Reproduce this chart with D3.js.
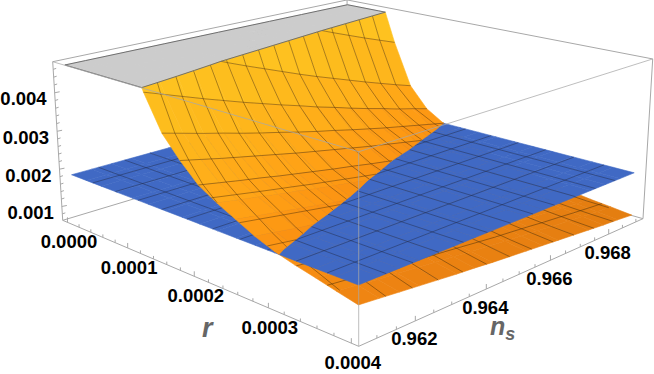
<!DOCTYPE html>
<html>
<head>
<meta charset="utf-8">
<script src="https://cdn.jsdelivr.net/npm/d3@7"></script>
<style>
  body { margin: 0; background: #fff; }
  text { font-family: "Liberation Sans", Arial, sans-serif; font-weight: bold; }
</style>
</head>
<body>
<div id="chart-area"></div>
<script>
// grid of the two surfaces, z values are in units of 0.001
const rGrid = [0, 0.000025, 0.00005, 0.000075, 0.0001, 0.000125, 0.00015, 0.000175, 0.0002,
  0.000225, 0.00025, 0.000275, 0.0003, 0.000325, 0.00035, 0.000375, 0.0004]
const nsGrid = [0.96072, 0.961244, 0.961768, 0.962292, 0.962816, 0.96334, 0.963864, 0.964388, 0.964912,
  0.965436, 0.96596, 0.966484, 0.967008, 0.967532, 0.968056, 0.96858, 0.969104]

// one row per r value, one column per ns value
const orangeZ = [
  [15.2, 14.74, 14.28, 13.84, 13.41, 12.98, 12.57, 12.17, 11.77, 11.39, 11.01, 10.65, 10.29, 9.95, 9.61, 9.29, 8.97],
  [11.9, 11.53, 11.16, 10.81, 10.45, 10.11, 9.78, 9.46, 9.14, 8.83, 8.53, 8.24, 7.94, 7.67, 7.4, 7.14, 6.88],
  [8.97, 8.7, 8.43, 8.17, 7.91, 7.66, 7.42, 7.18, 6.95, 6.72, 6.5, 6.29, 6.08, 5.88, 5.68, 5.49, 5.3],
  [7.17, 6.93, 6.69, 6.45, 6.22, 6, 5.78, 5.57, 5.36, 5.16, 4.96, 4.77, 4.58, 4.4, 4.22, 4.05, 3.88],
  [5.71, 5.49, 5.27, 5.06, 4.85, 4.64, 4.44, 4.25, 4.06, 3.87, 3.69, 3.52, 3.35, 3.18, 3.02, 2.86, 2.71],
  [4.61, 4.43, 4.25, 4.07, 3.9, 3.73, 3.57, 3.41, 3.26, 3.1, 2.96, 2.81, 2.67, 2.54, 2.4, 2.28, 2.15],
  [3.75, 3.61, 3.47, 3.34, 3.2, 3.07, 2.95, 2.82, 2.7, 2.59, 2.47, 2.36, 2.25, 2.15, 2.05, 1.95, 1.85],
  [3.23, 3.11, 2.99, 2.88, 2.77, 2.66, 2.55, 2.45, 2.35, 2.25, 2.15, 2.06, 1.97, 1.88, 1.79, 1.71, 1.63],
  [2.79, 2.69, 2.59, 2.5, 2.4, 2.31, 2.22, 2.13, 2.05, 1.96, 1.88, 1.8, 1.73, 1.65, 1.58, 1.51, 1.44],
  [2.52, 2.43, 2.34, 2.25, 2.17, 2.08, 2, 1.92, 1.84, 1.77, 1.69, 1.62, 1.55, 1.48, 1.42, 1.35, 1.29],
  [2.29, 2.21, 2.13, 2.05, 1.97, 1.89, 1.82, 1.75, 1.68, 1.61, 1.54, 1.48, 1.42, 1.35, 1.29, 1.24, 1.18],
  [2.06, 1.99, 1.91, 1.84, 1.77, 1.71, 1.64, 1.58, 1.52, 1.45, 1.39, 1.34, 1.28, 1.23, 1.17, 1.12, 1.07],
  [1.88, 1.81, 1.75, 1.68, 1.62, 1.56, 1.5, 1.44, 1.38, 1.33, 1.28, 1.22, 1.17, 1.12, 1.07, 1.03, 0.98],
  [1.75, 1.69, 1.63, 1.56, 1.51, 1.45, 1.39, 1.34, 1.28, 1.23, 1.18, 1.13, 1.08, 1.03, 0.99, 0.94, 0.9],
  [1.64, 1.58, 1.52, 1.46, 1.41, 1.35, 1.3, 1.25, 1.19, 1.14, 1.1, 1.05, 1, 0.96, 0.91, 0.87, 0.83],
  [1.52, 1.47, 1.41, 1.36, 1.31, 1.26, 1.21, 1.16, 1.11, 1.06, 1.02, 0.98, 0.93, 0.89, 0.85, 0.81, 0.78],
  [1.41, 1.36, 1.31, 1.26, 1.21, 1.16, 1.12, 1.07, 1.03, 0.99, 0.95, 0.91, 0.87, 0.83, 0.79, 0.76, 0.72]
]
const blueLevel = 1.85
const clipLevel = 4.71

// mesh on the blue plane
const blueMeshR = [0.000036, 0.000073, 0.000109, 0.000145, 0.000182, 0.000218, 0.000255, 0.000291, 0.000327, 0.000364]
const blueMeshNs = [0.96142, 0.96212, 0.96282, 0.96351, 0.96421, 0.96491, 0.96561, 0.96631, 0.96701, 0.9677, 0.9684]
// mesh on the orange surface: lines of equal r, and the steps between lines of equal ns
const orangeMeshR = [0.000025, 0.00005, 0.000075, 0.0001, 0.000125, 0.00015, 0.000175, 0.0002, 0.000218, 0.000255, 0.000291, 0.000327, 0.000364]
const orangeMeshLines = [-7, -6, -5, -4, -3, -2, -1, 0, 1, 2, 3, 4, 5, 6, 7]

const rTickLabels = ["0.0000", "0.0001", "0.0002", "0.0003", "0.0004"]
const nsTickLabels = ["0.962", "0.964", "0.966", "0.968"]
const zTickLabels = ["0.001", "0.002", "0.003", "0.004"]

// box coordinates: u runs from the front corner to the left one, v to the right one, w upwards
const rScale = d3.scaleLinear().domain([0.0004, 0]).range([0.02, 0.98])
const nsScale = d3.scaleLinear().domain([0.960544, 0.96927]).range([0, 1])
const zScale = d3.scaleLinear().domain([0.625, 4.795]).range([0, 1])

const orangeColor = d3.scaleLinear()
  .domain([0.7, 1.4, 1.85, 2.3, 3, 4, 4.7])
  .range(["#e37d10", "#ee8412", "#fb9212", "#ffa015", "#ffb01a", "#fdbc1d", "#fec220"])

// index scales to look up the table between its rows
const rIndex = d3.scaleLinear().domain([0, 0.0004]).range([0, 16])
const nsIndex = d3.scaleLinear().domain([nsGrid[0], nsGrid[16]]).range([0, 16])
// the equal-ns lines spread out towards large r
const meshStep = d3.scaleLinear().domain([0.0001, 0.0004]).range([0.000524, 0.0007]).clamp(true)

// perspective of the box, taken from its corners in the picture
const origin = [358.7, 346.3]
const axisU = [-280.3, -70.9]
const axisV = [439.9, -74.7]
const axisW = [-14.7, -200.8]
const perspU = 0.25, perspV = 0.242, perspW = -0.041

function projectBox(u, v, w) {
  let d = 1 + perspU * u + perspV * v + perspW * w
  return [
    (origin[0] + u * axisU[0] + v * axisV[0] + w * axisW[0]) / d,
    (origin[1] + u * axisU[1] + v * axisV[1] + w * axisW[1]) / d
  ]
}
const project = p => projectBox(rScale(p.r), nsScale(p.ns), zScale(p.z))

const mix = (a, b, t) => ({
  r: a.r + (b.r - a.r) * t,
  ns: a.ns + (b.ns - a.ns) * t,
  z: a.z + (b.z - a.z) * t
})

// cut a polygon with a horizontal plane
function cutPolygon(poly, level, keepAbove) {
  let out = []
  let inside = p => keepAbove ? p.z >= level : p.z <= level
  poly.forEach((p, i) => {
    let q = poly[(i + 1) % poly.length]
    if (inside(p)) out.push(p)
    if (inside(p) != inside(q)) out.push(mix(p, q, (level - p.z) / (q.z - p.z)))
  })
  return out
}

// the part of a segment between two heights
function cutSegment(a, b, lo, hi) {
  let t0 = 0, t1 = 1
  let dz = b.z - a.z
  if (dz == 0) return (a.z >= lo && a.z <= hi) ? [a, b] : null
  let tLo = (lo - a.z) / dz, tHi = (hi - a.z) / dz
  t0 = Math.max(t0, Math.min(tLo, tHi))
  t1 = Math.min(t1, Math.max(tLo, tHi))
  return t0 < t1 ? [mix(a, b, t0), mix(a, b, t1)] : null
}

const node = (i, j) => ({ r: rGrid[i], ns: nsGrid[j], z: orangeZ[i][j] })
const flatNode = (i, j) => ({ r: rGrid[i], ns: nsGrid[j], z: blueLevel })

// height of the orange surface anywhere inside the table
function orangeAt(r, ns) {
  let a = rIndex(r), b = nsIndex(ns)
  let i = Math.min(15, Math.floor(a)), j = Math.min(15, Math.floor(b))
  let s = a - i, t = b - j
  let z = orangeZ[i][j] * (1 - s) * (1 - t) + orangeZ[i + 1][j] * s * (1 - t)
    + orangeZ[i][j + 1] * (1 - s) * t + orangeZ[i + 1][j + 1] * s * t
  return { r: r, ns: ns, z: z }
}

let svg = d3.select("#chart-area").append("svg")
  .attr("width", 654)
  .attr("height", 374)
  .style("display", "block")

const line = d3.line()
const polyPath = poly => line(poly.map(project)) + "Z"
const boxLine = (g, a, b, opacity) => g.append("path")
  .attr("d", line([projectBox(...a), projectBox(...b)]))
  .attr("fill", "none")
  .attr("stroke", "#a8a8a8")
  .attr("stroke-width", 1)
  .attr("stroke-opacity", opacity)

// cells from back to front
let cells = []
d3.range(16).forEach(i => d3.range(16).forEach(j => cells.push({ i: i, j: j })))

// mesh lines of the orange surface
let orangeSegments = []
orangeMeshR.forEach(r => nsGrid.slice(1).forEach((ns, j) => {
  orangeSegments.push([orangeAt(r, nsGrid[j]), orangeAt(r, ns)])
}))
orangeMeshLines.forEach(k => {
  let center = nsGrid[8]
  rGrid.slice(1).forEach((r, i) => {
    let ns0 = center + k * meshStep(rGrid[i]), ns1 = center + k * meshStep(r)
    if (Math.min(ns0, ns1) < nsGrid[0] || Math.max(ns0, ns1) > nsGrid[16]) return
    orangeSegments.push([orangeAt(rGrid[i], ns0), orangeAt(r, ns1)])
  })
})

function drawCell(g, poly, color) {
  if (poly.length < 3) return
  g.append("path").attr("d", polyPath(poly))
    .attr("fill", color).attr("stroke", color).attr("stroke-width", 0.6)
    .attr("stroke-linejoin", "round")
}

function drawMesh(g, segments, lo, hi, color) {
  let d = ""
  segments.forEach(s => {
    let cut = cutSegment(s[0], s[1], lo, hi)
    if (cut) d += line(cut.map(project))
  })
  g.append("path").attr("d", d).attr("fill", "none")
    .attr("stroke", color).attr("stroke-width", 0.9)
}

// box edges that lie behind the surfaces
let back = svg.append("g")
boxLine(back, [1, 0, 0], [1, 1, 0], 1)
boxLine(back, [0, 1, 0], [1, 1, 0], 1)
boxLine(back, [1, 1, 0], [1, 1, 1], 1)
boxLine(back, [1, 0, 1], [1, 1, 1], 1)
boxLine(back, [0, 1, 1], [1, 1, 1], 1)

// orange under the blue plane
let under = svg.append("g")
cells.forEach(c => {
  let quad = [node(c.i, c.j), node(c.i, c.j + 1), node(c.i + 1, c.j + 1), node(c.i + 1, c.j)]
  let z = d3.mean(quad, p => p.z)
  drawCell(under, cutPolygon(quad, blueLevel, false), orangeColor(z))
})
drawMesh(under, orangeSegments, -1, blueLevel, "rgba(70,45,10,0.55)")

// blue plane
let blue = svg.append("g")
let blueSegments = []
cells.forEach(c => {
  drawCell(blue, [flatNode(c.i, c.j), flatNode(c.i, c.j + 1), flatNode(c.i + 1, c.j + 1), flatNode(c.i + 1, c.j)], "#4069c4")
})
blueMeshR.forEach(r => blueSegments.push([{ r: r, ns: nsGrid[0], z: blueLevel }, { r: r, ns: nsGrid[16], z: blueLevel }]))
blueMeshNs.forEach(ns => blueSegments.push([{ r: 0, ns: ns, z: blueLevel }, { r: 0.0004, ns: ns, z: blueLevel }]))
drawMesh(blue, blueSegments, -1, 99, "rgba(35,45,75,0.55)")

// orange above the blue plane, gray where it leaves the top of the plot
let over = svg.append("g")
let contour = []
let grayPath = ""
cells.forEach(c => {
  let quad = [node(c.i, c.j), node(c.i, c.j + 1), node(c.i + 1, c.j + 1), node(c.i + 1, c.j)]
  let top = cutPolygon(quad, clipLevel, true).map(p => ({ r: p.r, ns: p.ns, z: clipLevel }))
  if (top.length > 2) grayPath += polyPath(top)
})
over.append("path").attr("d", grayPath)
  .attr("fill", "#cccccc").attr("stroke", "#cccccc").attr("stroke-width", 0.6)
cells.forEach(c => {
  let quad = [node(c.i, c.j), node(c.i, c.j + 1), node(c.i + 1, c.j + 1), node(c.i + 1, c.j)]
  let z = d3.mean(quad, p => p.z)
  let part = cutPolygon(cutPolygon(quad, blueLevel, true), clipLevel, false)
  drawCell(over, part, orangeColor(Math.min(z, 4.7)))
  part.forEach((p, k) => {
    let q = part[(k + 1) % part.length]
    if (Math.abs(p.z - clipLevel) < 1e-9 && Math.abs(q.z - clipLevel) < 1e-9) contour.push([p, q])
  })
})
drawMesh(over, orangeSegments, blueLevel, clipLevel, "rgba(70,45,10,0.5)")

// outline of the gray part
d3.range(16).forEach(k => {
  [[node(k, 0), node(k + 1, 0)], [node(k, 16), node(k + 1, 16)], [node(0, k), node(0, k + 1)]].forEach(s => {
    let cut = cutSegment(s[0], s[1], clipLevel, 99)
    if (cut) contour.push(cut.map(p => ({ r: p.r, ns: p.ns, z: clipLevel })))
  })
})
over.append("path")
  .attr("d", contour.map(s => line(s.map(project))).join(""))
  .attr("fill", "none").attr("stroke", "#6f6f6f").attr("stroke-width", 1)

// box edges in front, they show through the surfaces
let front = svg.append("g")
boxLine(front, [0, 0, 0], [1, 0, 0], 1)
boxLine(front, [0, 0, 0], [0, 1, 0], 1)
boxLine(front, [1, 0, 0], [1, 0, 1], 1)
boxLine(front, [0, 1, 0], [0, 1, 1], 1)
boxLine(front, [0, 0, 0], [0, 0, 1], 0.75)
boxLine(front, [0, 0, 1], [1, 0, 1], 0.75)
boxLine(front, [0, 0, 1], [0, 1, 1], 0.75)

// ticks
let ticks = svg.append("g").attr("stroke", "#a8a8a8").attr("stroke-width", 1)
const tick = (pt, len) => ticks.append("line")
  .attr("x1", pt[0]).attr("y1", pt[1])
  .attr("x2", pt[0]).attr("y2", pt[1] - len)

d3.range(21).forEach(k => {
  let r = k * 0.00002
  tick(projectBox(rScale(r), 0, 0), k % 5 == 0 ? 5 : 3)
})
d3.range(17).forEach(k => {
  let ns = 0.961 + k * 0.0005
  tick(projectBox(0, nsScale(ns), 0), (k + 2) % 4 == 0 ? 5 : 3)
})
d3.range(20).forEach(k => {
  let z = 0.8 + k * 0.2
  let pt = projectBox(1, 0, zScale(z))
  ticks.append("line")
    .attr("x1", pt[0]).attr("y1", pt[1])
    .attr("x2", pt[0] + ((k + 4) % 5 == 0 ? 5 : 3)).attr("y2", pt[1] - 1)
})

// tick labels
let labels = svg.append("g").attr("fill", "#000").style("font-size", "18.5px")
rTickLabels.forEach(s => {
  let pt = projectBox(rScale(+s), 0, 0)
  labels.append("text").attr("x", pt[0] + 1.5).attr("y", pt[1] + 26)
    .attr("text-anchor", "middle").text(s)
})
nsTickLabels.forEach(s => {
  let pt = projectBox(0, nsScale(+s), 0)
  labels.append("text").attr("x", pt[0] - 1).attr("y", pt[1] + 24.5)
    .attr("text-anchor", "middle").text(s)
})
zTickLabels.forEach((s, k) => {
  let pt = projectBox(1, 0, zScale(k + 1))
  labels.append("text").attr("x", pt[0] - 8).attr("y", pt[1] + 12.5)
    .attr("text-anchor", "end").text(s)
})

// axis titles
svg.append("text").attr("x", 202).attr("y", 337)
  .attr("fill", "#666").style("font-size", "27px").style("font-style", "italic").text("r")
let nsTitle = svg.append("text").attr("x", 490).attr("y", 335)
  .attr("fill", "#666").style("font-size", "25px").style("font-style", "italic")
nsTitle.append("tspan").text("n")
nsTitle.append("tspan").attr("dy", 5).style("font-size", "18px").text("s")
</script>
</body>
</html>
